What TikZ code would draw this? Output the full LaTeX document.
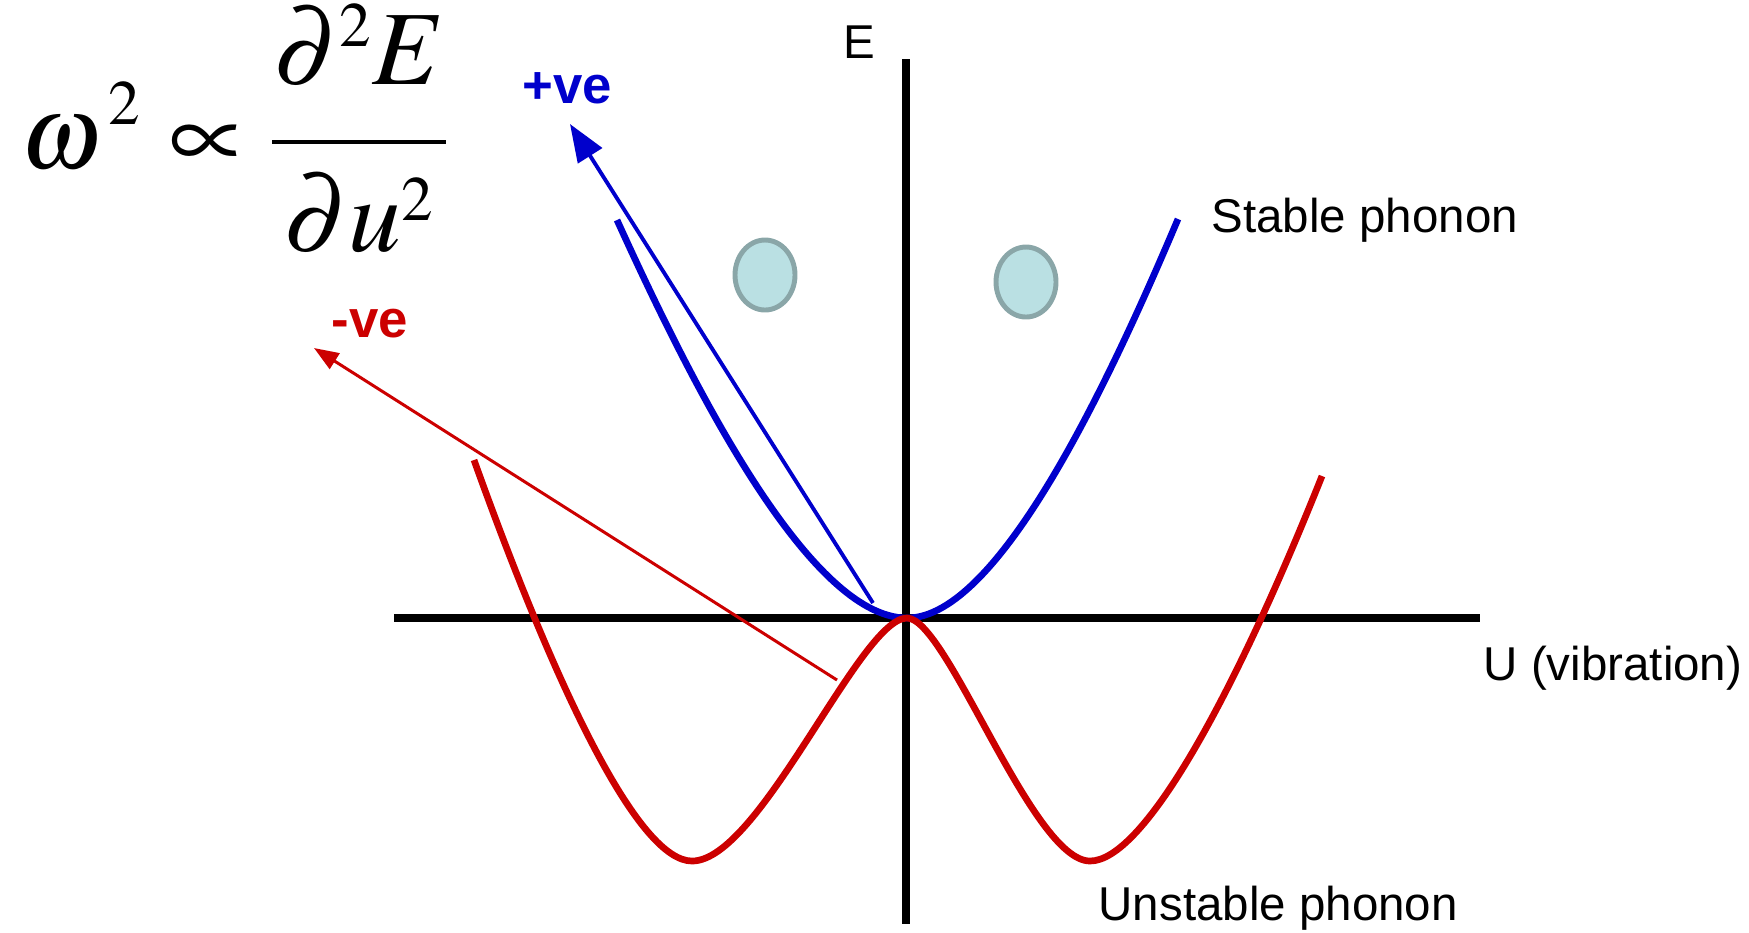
\documentclass[tikz,border=0pt]{standalone}
\definecolor{phononBlue}{RGB}{0,0,204}
\definecolor{phononRed}{RGB}{204,0,0}
\definecolor{bubbleFill}{RGB}{186,224,227}
\definecolor{bubbleLine}{RGB}{138,166,168}
\usepackage{amsmath,amssymb}
\usepackage{mathptmx}
\usepackage{fontspec}
\newfontfamily\labelfont{Liberation Sans}
\usepackage{tikz}
\usetikzlibrary{shapes,arrows.meta,positioning,calc}

\tikzset{
  axisline/.style={line width=2.3pt,black},
  wellcurve/.style={line width=1.9pt,line join=round},
  bubble/.style={fill=bubbleFill,draw=bubbleLine,line width=1.4pt},
  axislabel/.style={font={\labelfont\fontsize{13.5}{16}\selectfont},inner sep=0pt,anchor=base west},
  signlabel/.style={font={\labelfont\bfseries\fontsize{15}{18}\selectfont},inner sep=0pt,anchor=base west}
}

\begin{document}
\begin{tikzpicture}[x=0.01cm,y=-0.01cm]
          \useasboundingbox (0,0) rectangle (1749,932);
          % axes
          \draw[axisline] (394,618) -- (1480,618);
          \draw[axisline] (906,59) -- (906,924);
          \node[axislabel] (elabel) at (843,58) {E};
          \node[axislabel] (ulabel) at (1483,680) {U (vibration)};
          % the two wells
          \draw[wellcurve,phononBlue] (617,220) .. controls (687,374) and (807,618) .. (907,618)
                .. controls (1000,618) and (1112,375) .. (1178,219);
          \draw[wellcurve,phononRed] (474,460) .. controls (560,700) and (640,861) .. (692,861)
                .. controls (760,861) and (860,618) .. (907,618)
                .. controls (947,618) and (1032,861) .. (1090,861)
                .. controls (1142,861) and (1230,706) .. (1322,476);
          \node[axislabel] (stable) at (1211,232) {Stable phonon};
          \node[axislabel] (unstable) at (1098,920) {Unstable phonon};
          % atoms
          \draw[bubble] (765,275) ellipse [x radius=30,y radius=35];
          \draw[bubble] (1026,282) ellipse [x radius=30,y radius=35];
          % curvature arrows
          \coordinate (blueFoot) at (873,603);
          \coordinate (blueTip) at (570,124);
          \coordinate (redFoot) at (837,680);
          \coordinate (redTip) at (314,348);
          \draw[-{Triangle[length=10.7pt,width=8pt]},phononBlue,line width=1.1pt] (blueFoot) -- (blueTip);
          \draw[-{Triangle[length=7pt,width=5.2pt]},phononRed,line width=0.85pt] (redFoot) -- (redTip);
          \node[signlabel,text=phononBlue] (plusve) at (522,103) {+ve};
          \node[signlabel,text=phononRed] (minusve) at (331,337) {-ve};
          % formula
          \node[anchor=base west,inner sep=0pt,font=\fontsize{30}{36}\selectfont] (formula) at (20,168)
                {$\displaystyle \omega^{\hspace{2pt}\scriptscriptstyle 2}\hspace{1pt}\propto\frac{\hspace{0.5pt}\partial^{\scriptscriptstyle 2}E\hspace{0.5pt}\rule[-12pt]{0pt}{12pt}}{\rule{0pt}{27pt}\partial u^{\scriptscriptstyle 2}}$};
        \end{tikzpicture}
\end{document}
